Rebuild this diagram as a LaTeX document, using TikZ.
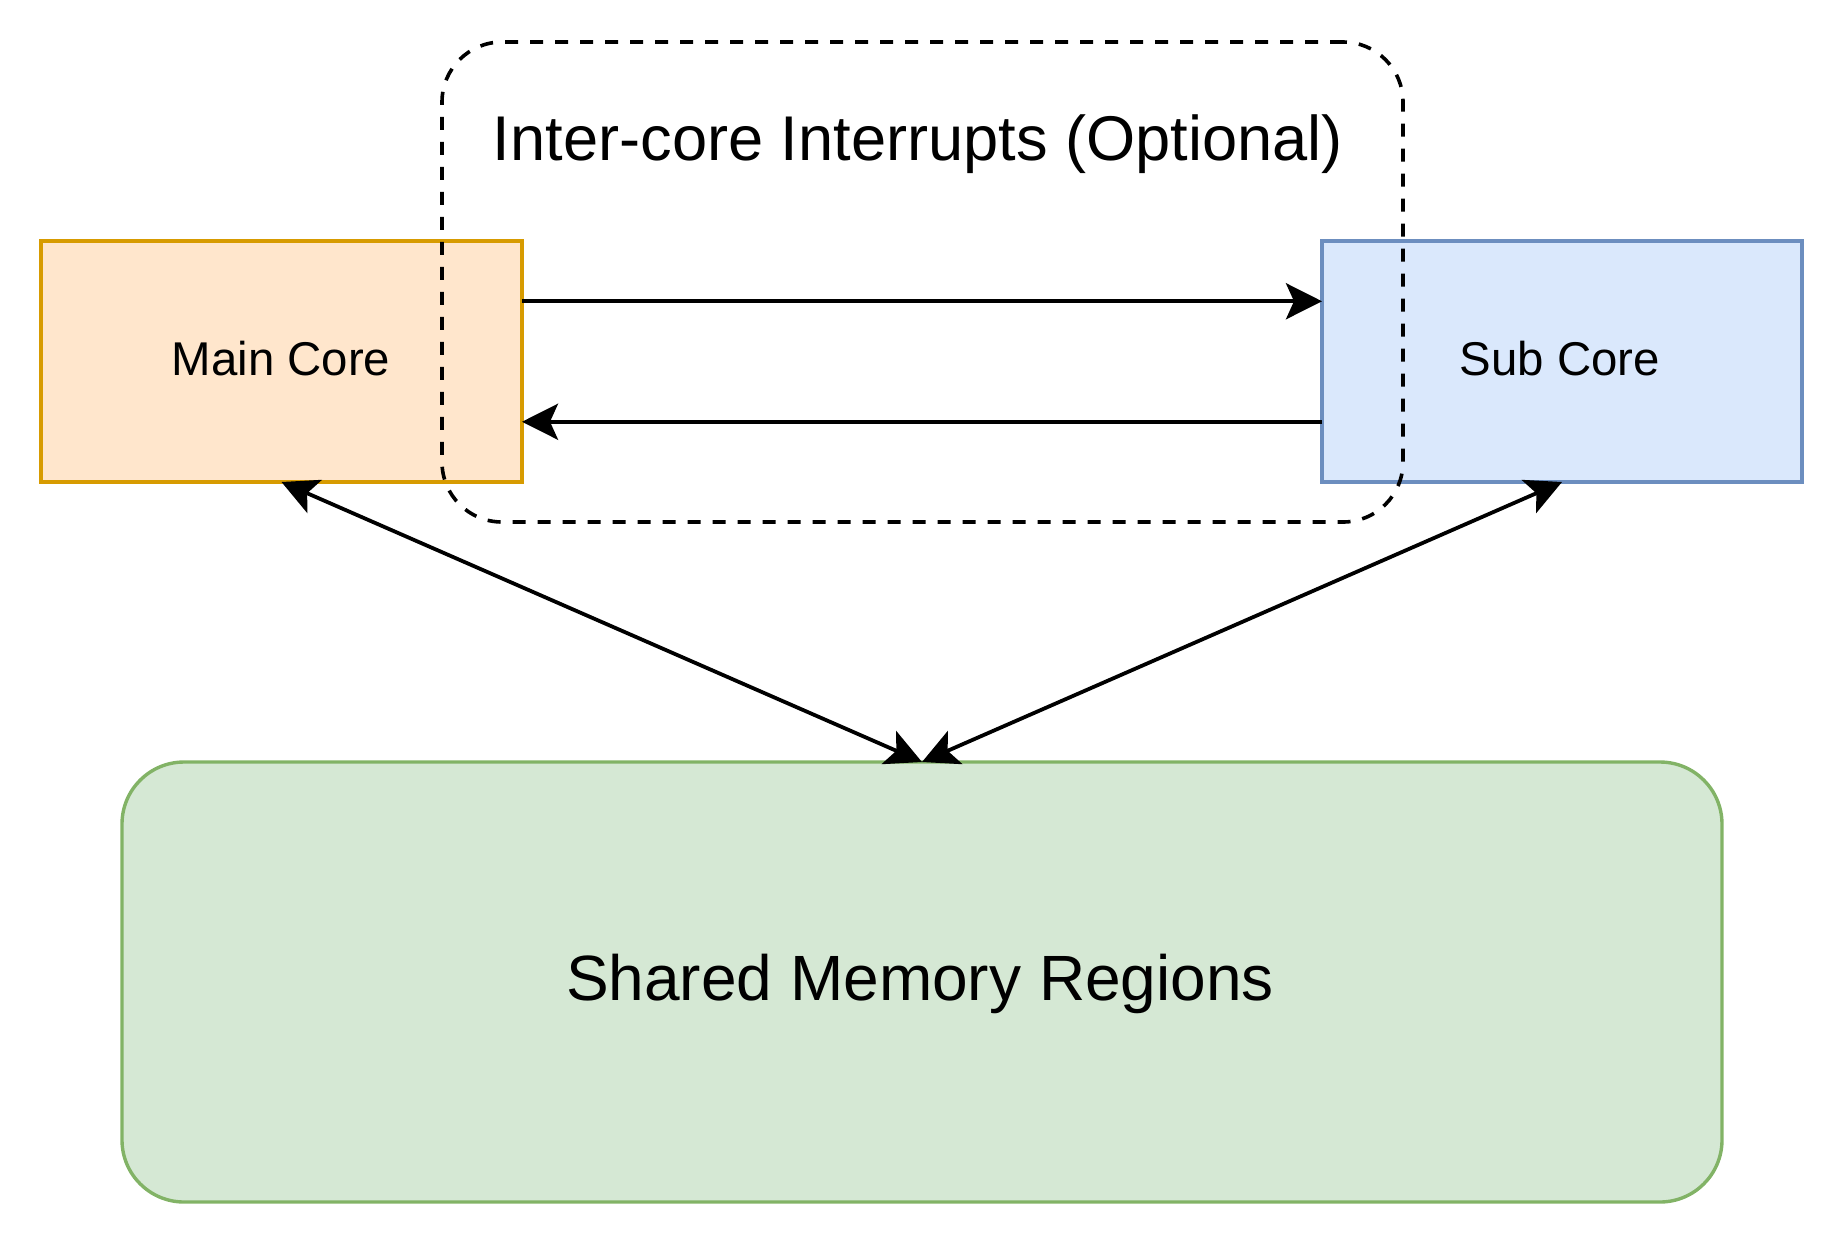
\documentclass[tikz,border=0pt]{standalone}
\usepackage{fontspec}
\setmainfont{Liberation Sans}
\usetikzlibrary{arrows.meta,calc}
\definecolor{orfill}{HTML}{FFE6CC}
\definecolor{ordraw}{HTML}{D79B00}
\definecolor{blfill}{HTML}{DAE8FC}
\definecolor{bldraw}{HTML}{6C8EBF}
\definecolor{grfill}{HTML}{D5E8D4}
\definecolor{grdraw}{HTML}{82B366}
\tikzset{
  x=0.5pt, y=-0.5pt,
  corebox/.style={draw, rectangle, line width=1.8pt, inner sep=0pt, outer sep=0pt,
    minimum width=240.5pt, minimum height=120.5pt},
  groupbox/.style={draw, rectangle, rounded corners=30pt, line width=1.8pt,
    dash pattern=on 6.5pt off 6pt, inner sep=0pt, outer sep=0pt,
    minimum width=480.5pt, minimum height=240pt},
  membox/.style={draw=grdraw, fill=grfill, rectangle, rounded corners=31pt, line width=1.7pt,
    inner sep=0pt, outer sep=0pt, minimum width=800pt, minimum height=220pt},
  lbl/.style={anchor=base, inner sep=0pt},
  conn/.style={line width=1.9pt, -{Stealth[length=18pt,width=18pt,inset=4pt]}},
  bconn/.style={line width=1.9pt, {Stealth[length=18pt,width=18pt,inset=4pt]}-{Stealth[length=18pt,width=18pt,inset=4pt]}}
}
\begin{document}
\begin{tikzpicture}
\useasboundingbox (0,0) rectangle (1844,1244);
\node[corebox, draw=ordraw, fill=orfill] (main) at (281.5,361.5) {};
\node[corebox, draw=bldraw, fill=blfill, minimum width=240pt] (sub) at (1562,361.5) {};
\node[membox] (mem) at (922,982) {};
\node[groupbox] (grp) at (922.5,282) {};
\node[lbl, font=\fontsize{23.7}{28}\selectfont] (maintxt) at (281,375) {Main Core};
\node[lbl, font=\fontsize{23.7}{28}\selectfont] (subtxt) at (1560,375) {Sub Core};
\node[lbl, font=\fontsize{31.6}{38}\selectfont] (grptxt) at (918,160) {Inter-core Interrupts (Optional)};
\node[lbl, font=\fontsize{32}{38}\selectfont] (memtxt) at (920,1000) {Shared Memory Regions};
\draw[conn] ($(main.north east)!0.25!(main.south east)$) -- ($(sub.north west)!0.25!(sub.south west)$);
\draw[conn] ($(sub.north west)!0.75!(sub.south west)$) -- ($(main.north east)!0.75!(main.south east)$);
\draw[bconn] (main.south) -- (mem.north);
\draw[bconn] (sub.south) -- (mem.north);
\end{tikzpicture}
\end{document}
